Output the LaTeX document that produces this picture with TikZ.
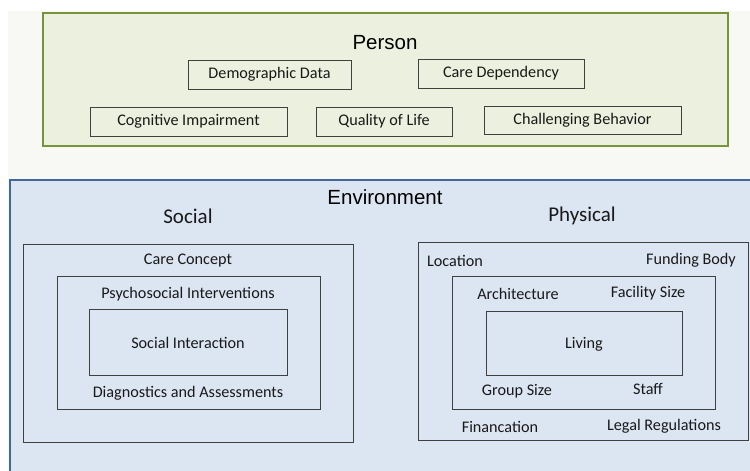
\documentclass[tikz,border=0pt]{standalone}
\usepackage{fontspec}
\setmainfont{Carlito}
\newfontfamily\arialfont{Liberation Sans}
\definecolor{pagebg}{HTML}{F8F8F4}
\definecolor{persongreen}{HTML}{77933C}
\definecolor{personfill}{HTML}{EBF1DE}
\definecolor{envblue}{HTML}{41689A}
\definecolor{envfill}{HTML}{DCE6F2}
\definecolor{boxgray}{HTML}{404040}
\begin{document}
\begin{tikzpicture}[x=1pt,y=-1pt]
\tikzstyle{every node}+=[inner sep=0pt, font=\fontsize{16.2}{19}\selectfont, text=black!90]
\tikzstyle{itembox}=[draw=boxgray, line width=0.8pt, minimum height=29pt]
\tikzstyle{ring}=[draw=boxgray, line width=0.8pt]
\tikzstyle{heading}=[font=\arialfont\fontsize{20.5}{24}\selectfont, text=black]
\tikzstyle{subheading}=[font=\fontsize{21}{25}\selectfont]
\useasboundingbox (0,0) rectangle (750,471);
\fill [pagebg] (8,11) rectangle (750,471);
% person block
\node [draw=persongreen, fill=personfill, line width=2pt, minimum width=685pt, minimum height=133pt] (person) at (385.5,79.5) {};
\node [heading] (persontitle) at (385,43) {Person};
\node [itembox, minimum width=163pt] (demo) at (269.5,74.5) {Demographic Data};
\node [itembox, minimum width=166pt] (caredep) at (501,73.5) {Care Dependency};
\node [itembox, minimum width=197pt] (cogn) at (188.5,121.5) {Cognitive Impairment};
\node [itembox, minimum width=136pt] (qol) at (384,121.5) {Quality of Life};
\node [itembox, minimum width=197pt, minimum height=28pt] (chall) at (582.5,120) {Challenging Behavior};
% environment block
\node [draw=envblue, fill=envfill, line width=1.6pt, minimum width=750pt, minimum height=300pt] (env) at (385,330) {};
\node [heading] (envtitle) at (385,197) {Environment};
\node [subheading] (social) at (188,216) {Social};
\node [subheading] (physical) at (582,216) {Physical};
% social rings
\node [ring, minimum width=330pt, minimum height=198pt] (socouter) at (188,343) {};
\node [ring, minimum width=263pt, minimum height=133pt] (socmid) at (188.5,342.5) {};
\node [ring, minimum width=198pt, minimum height=66pt] (socinner) at (188,342) {};
\node (careconc) at (188,261) {Care Concept};
\node (psycho) at (188,294) {Psychosocial Interventions};
\node (socint) at (188,343) {Social Interaction};
\node (diag) at (188,393) {Diagnostics and Assessments};
% physical rings
\node [ring, minimum width=330pt, minimum height=198pt] (phyouter) at (583,341) {};
\node [ring, minimum width=263pt, minimum height=133pt] (phymid) at (583.5,342.5) {};
\node [ring, minimum width=196pt, minimum height=64pt] (phyinner) at (584,343) {};
\node (location) at (455,261) {Location};
\node (funding) at (691,260) {Funding Body};
\node (archi) at (518,294) {Architecture};
\node (facsize) at (648,293) {Facility Size};
\node (living) at (584,344) {Living};
\node (grpsize) at (517,391) {Group Size};
\node (staff) at (648,389) {Staff};
\node (financ) at (500,427) {Financation};
\node (legal) at (664,426) {Legal Regulations};
\end{tikzpicture}
\end{document}
